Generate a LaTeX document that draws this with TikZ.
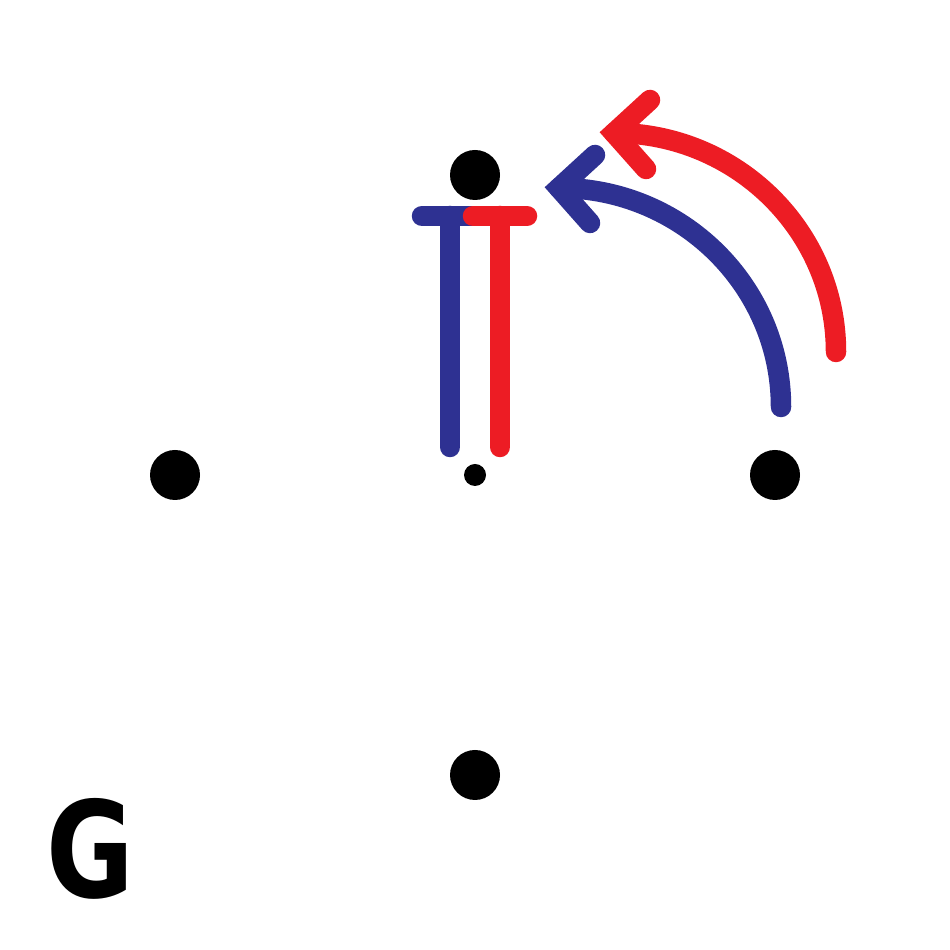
\documentclass[tikz,border=0pt]{standalone}
\usepackage{fontspec}
\usepackage{tikz}
\usetikzlibrary{positioning, calc}
\usepackage{xcolor}
\definecolor{deepblue}{RGB}{46,49,146}
\definecolor{brightred}{RGB}{237,28,36}
\newfontfamily\letterfont[FakeStretch=0.8]{DejaVu Sans}
\tikzset{
  dot/.style={circle, fill=black, inner sep=0pt, minimum size=0.5cm},
  smalldot/.style={circle, fill=black, inner sep=0pt, minimum size=0.22cm},
  stroke/.style={line width=0.205cm, line cap=round, line join=miter, miter limit=10},
}

\begin{document}
\begin{tikzpicture}
  \useasboundingbox (0,0) rectangle (9.5,9.5);
  % Points
  \node[dot] (west) at (1.75,4.75) {};
  \node[dot] (north) at (4.75,7.75) {};
  \node[dot] (east) at (7.75,4.75) {};
  \node[dot] (south) at (4.75,1.75) {};
  \node[smalldot] (centre) at (4.75,4.75) {};
  % Blue T
  \draw[stroke, deepblue] (4.22,7.34) -- (4.79,7.34);
  \draw[stroke, deepblue] (4.50,7.34) -- (4.50,5.03);
  % Red T
  \draw[stroke, brightred] (4.73,7.34) -- (5.27,7.34);
  \draw[stroke, brightred] (5.00,7.34) -- (5.00,5.03);
  % Blue rotation
  \draw[stroke, deepblue] (7.81,5.43) arc[start angle=0, end angle=90, x radius=2.22, y radius=2.19];
  \draw[stroke, deepblue] (5.95,7.95) -- (5.59,7.62) -- (5.90,7.27);
  % Red rotation
  \draw[stroke, brightred] (8.36,5.98) arc[start angle=0, end angle=90, x radius=2.22, y radius=2.19];
  \draw[stroke, brightred] (6.50,8.50) -- (6.14,8.17) -- (6.46,7.81);
  % Label
  \node[font=\letterfont\bfseries\fontsize{38}{38}\selectfont, inner sep=0pt] (glabel) at (0.9,1.01) {G};
\end{tikzpicture}
\end{document}
